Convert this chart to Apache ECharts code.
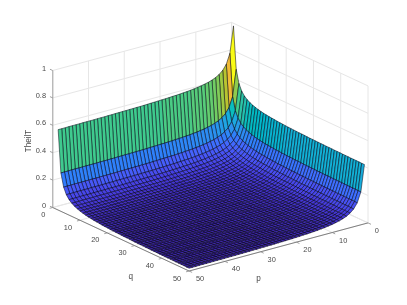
<!DOCTYPE html>
<html><head><meta charset="utf-8">
<style>html,body{margin:0;padding:0;background:#fff}#c{width:407px;height:305px}</style>
<script src="https://cdn.jsdelivr.net/npm/echarts@6/dist/echarts.min.js"></script>
</head><body><div id="c"></div>
<script>
const pValues=[1,2,3,4,5,6,7,8,9,10,11,12,13,14,15,16,17,18,19,20,21,22,23,24,25,26,27,28,29,30,31,32,33,34,35,36,37,38,39,40,41,42,43,44,45,46,47,48,49,50];
const qValues=[2,3,4,5,6,7,8,9,10,11,12,13,14,15,16,17,18,19,20,21,22,23,24,25,26,27,28,29,30,31,32,33,34,35,36,37,38,39,40,41,42,43,44,45,46,47,48,49,50];
// TheilT read from the surface, in thousandths, one row per q across all p.
const zUnit=0.001;
const q2=[1000,807,735,697,674,658,647,638,632,626,622,618,615,612,610,608,606,605,603,602,601,600,599,598,597,596,595,595,594,594,593,593,592,592,591,591,590,590,590,589,589,589,589,588,588,588,588,587,587,587];
const q3=[693,500,428,390,367,351,340,331,325,319,315,311,308,305,303,301,299,298,296,295,294,293,292,291,290,289,288,288,287,287,286,286,285,285,284,284,283,283,283,282,282,282,282,281,281,281,281,280,280,280];
const q4=[599,406,334,296,273,257,246,237,231,225,221,217,214,211,209,207,205,204,202,201,200,199,198,197,196,195,194,194,193,193,192,192,191,191,190,190,189,189,189,188,188,188,188,187,187,187,187,186,186,186];
const q5=[553,360,288,250,227,211,200,191,185,179,175,171,168,165,163,161,159,158,156,155,154,153,152,151,150,149,148,148,147,147,146,146,145,145,144,144,143,143,143,142,142,142,142,141,141,141,141,140,140,140];
const q6=[526,333,261,223,200,184,173,164,158,152,148,144,141,138,136,134,132,131,129,128,127,126,125,124,123,122,121,121,120,120,119,119,118,118,117,117,116,116,116,115,115,115,115,114,114,114,114,113,113,113];
const q7=[509,316,244,206,183,167,156,147,141,135,131,127,124,121,119,117,115,114,112,111,110,109,108,107,106,105,104,104,103,103,102,102,101,101,100,100,99,99,99,98,98,98,98,97,97,97,97,96,96,96];
const q8=[496,303,231,193,170,154,143,134,128,122,118,114,111,108,106,104,102,101,99,98,97,96,95,94,93,92,91,91,90,90,89,89,88,88,87,87,86,86,86,85,85,85,85,84,84,84,84,83,83,83];
const q9=[487,294,222,184,161,145,134,125,119,113,109,105,102,99,97,95,93,92,90,89,88,87,86,85,84,83,82,82,81,81,80,80,79,79,78,78,77,77,77,76,76,76,76,75,75,75,75,74,74,74];
const q10=[480,287,215,177,154,138,127,118,112,106,102,98,95,92,90,88,86,85,83,82,81,80,79,78,77,76,75,75,74,74,73,73,72,72,71,71,70,70,70,69,69,69,69,68,68,68,68,67,67,67];
const q11=[474,281,209,171,148,132,121,112,106,100,96,92,89,86,84,82,80,79,77,76,75,74,73,72,71,70,69,69,68,68,67,67,66,66,65,65,64,64,64,63,63,63,63,62,62,62,62,61,61,61];
const q12=[469,276,204,166,143,127,116,107,101,95,91,87,84,81,79,77,75,74,72,71,70,69,68,67,66,65,64,64,63,63,62,62,61,61,60,60,59,59,59,58,58,58,58,57,57,57,57,56,56,56];
const q13=[465,272,200,162,139,123,112,103,97,91,87,83,80,77,75,73,71,70,68,67,66,65,64,63,62,61,60,60,59,59,58,58,57,57,56,56,55,55,55,54,54,54,54,53,53,53,53,52,52,52];
const q14=[462,269,197,159,136,120,109,100,94,88,84,80,77,74,72,70,68,67,65,64,63,62,61,60,59,58,57,57,56,56,55,55,54,54,53,53,52,52,52,51,51,51,51,50,50,50,50,49,49,49];
const q15=[459,266,194,156,133,117,106,97,91,85,81,77,74,71,69,67,65,64,62,61,60,59,58,57,56,55,54,54,53,53,52,52,51,51,50,50,49,49,49,48,48,48,48,47,47,47,47,46,46,46];
const q16=[457,264,192,154,131,115,104,95,89,83,79,75,72,69,67,65,63,62,60,59,58,57,56,55,54,53,52,52,51,51,50,50,49,49,48,48,47,47,47,46,46,46,46,45,45,45,45,44,44,44];
const q17=[455,262,190,152,129,113,102,93,87,81,77,73,70,67,65,63,61,60,58,57,56,55,54,53,52,51,50,50,49,49,48,48,47,47,46,46,45,45,45,44,44,44,44,43,43,43,43,42,42,42];
const q18=[453,260,188,150,127,111,100,91,85,79,75,71,68,65,63,61,59,58,56,55,54,53,52,51,50,49,48,48,47,47,46,46,45,45,44,44,43,43,43,42,42,42,42,41,41,41,41,40,40,40];
const q19=[451,258,186,148,125,109,98,89,83,77,73,69,66,63,61,59,57,56,54,53,52,51,50,49,48,47,46,46,45,45,44,44,43,43,42,42,41,41,41,40,40,40,40,39,39,39,39,38,38,38];
const q20=[450,257,185,147,124,108,97,88,82,76,72,68,65,62,60,58,56,55,53,52,51,50,49,48,47,46,45,45,44,44,43,43,42,42,41,41,40,40,40,39,39,39,39,38,38,38,38,37,37,37];
const q21=[448,255,183,145,122,106,95,86,80,74,70,66,63,60,58,56,54,53,51,50,49,48,47,46,45,44,43,43,42,42,41,41,40,40,39,39,38,38,38,37,37,37,37,36,36,36,36,35,35,35];
const q22=[447,254,182,144,121,105,94,85,79,73,69,65,62,59,57,55,53,52,50,49,48,47,46,45,44,43,42,42,41,41,40,40,39,39,38,38,37,37,37,36,36,36,36,35,35,35,35,34,34,34];
const q23=[446,253,181,143,120,104,93,84,78,72,68,64,61,58,56,54,52,51,49,48,47,46,45,44,43,42,41,41,40,40,39,39,38,38,37,37,36,36,36,35,35,35,35,34,34,34,34,33,33,33];
const q24=[445,252,180,142,119,103,92,83,77,71,67,63,60,57,55,53,51,50,48,47,46,45,44,43,42,41,40,40,39,39,38,38,37,37,36,36,35,35,35,34,34,34,34,33,33,33,33,32,32,32];
const q25=[444,251,179,141,118,102,91,82,76,70,66,62,59,56,54,52,50,49,47,46,45,44,43,42,41,40,39,39,38,38,37,37,36,36,35,35,34,34,34,33,33,33,33,32,32,32,32,31,31,31];
const q26=[443,250,178,140,117,101,90,81,75,69,65,61,58,55,53,51,49,48,46,45,44,43,42,41,40,39,38,38,37,37,36,36,35,35,34,34,33,33,33,32,32,32,32,31,31,31,31,30,30,30];
const q27=q26;
const q28=[442,249,177,139,116,100,89,80,74,68,64,60,57,54,52,50,48,47,45,44,43,42,41,40,39,38,37,37,36,36,35,35,34,34,33,33,32,32,32,31,31,31,31,30,30,30,30,29,29,29];
const q29=[441,248,176,138,115,99,88,79,73,67,63,59,56,53,51,49,47,46,44,43,42,41,40,39,38,37,36,36,35,35,34,34,33,33,32,32,31,31,31,30,30,30,30,29,29,29,29,28,28,28];
const q30=[440,247,175,137,114,98,87,78,72,66,62,58,55,52,50,48,46,45,43,42,41,40,39,38,37,36,35,35,34,34,33,33,32,32,31,31,30,30,30,29,29,29,29,28,28,28,28,27,27,27];
const q31=q30;
const q32=[439,246,174,136,113,97,86,77,71,65,61,57,54,51,49,47,45,44,42,41,40,39,38,37,36,35,34,34,33,33,32,32,31,31,30,30,29,29,29,28,28,28,28,27,27,27,27,26,26,26];
const q33=q32;
const q34=[438,245,173,135,112,96,85,76,70,64,60,56,53,50,48,46,44,43,41,40,39,38,37,36,35,34,33,33,32,32,31,31,30,30,29,29,28,28,28,27,27,27,27,26,26,26,26,25,25,25];
const q35=q34;
const q36=[437,244,172,134,111,95,84,75,69,63,59,55,52,49,47,45,43,42,40,39,38,37,36,35,34,33,32,32,31,31,30,30,29,29,28,28,27,27,27,26,26,26,26,25,25,25,25,24,24,24];
const q37=q36, q38=q36;
const q39=[436,243,171,133,110,94,83,74,68,62,58,54,51,48,46,44,42,41,39,38,37,36,35,34,33,32,31,31,30,30,29,29,28,28,27,27,26,26,26,25,25,25,25,24,24,24,24,23,23,23];
const q40=q39, q41=q39;
const q42=[435,242,170,132,109,93,82,73,67,61,57,53,50,47,45,43,41,40,38,37,36,35,34,33,32,31,30,30,29,29,28,28,27,27,26,26,25,25,25,24,24,24,24,23,23,23,23,22,22,22];
const q43=q42, q44=q42;
const q45=[434,241,169,131,108,92,81,72,66,60,56,52,49,46,44,42,40,39,37,36,35,34,33,32,31,30,29,29,28,28,27,27,26,26,25,25,24,24,24,23,23,23,23,22,22,22,22,21,21,21];
const q46=q45, q47=q45, q48=q45;
const q49=[433,240,168,130,107,91,80,71,65,59,55,51,48,45,43,41,39,38,36,35,34,33,32,31,30,29,28,28,27,27,26,26,25,25,24,24,23,23,23,22,22,22,22,21,21,21,21,20,20,20];
const q50=q49;
const theilT=[q2,q3,q4,q5,q6,q7,q8,q9,q10,q11,q12,q13,q14,q15,q16,q17,q18,q19,q20,q21,q22,q23,q24,q25,q26,q27,q28,q29,q30,q31,q32,q33,q34,q35,q36,q37,q38,q39,q40,q41,q42,q43,q44,q45,q46,q47,q48,q49,q50].map(r=>r.map(v=>v*zUnit));
const pTicks=[0,10,20,30,40,50];
const qTicks=[0,10,20,30,40,50];
const zTicks=[0,0.2,0.4,0.6,0.8,1];
const zLabels=['0','0.2','0.4','0.6','0.8','1'];
const axisNames={p:'p',q:'q',z:'TheilT'};
const parula=[[0.2422,0.1504,0.6603],[0.2504,0.1650,0.7076],[0.2578,0.1818,0.7511],[0.2647,0.1978,0.7952],[0.2706,0.2147,0.8364],[0.2751,0.2342,0.8710],[0.2783,0.2559,0.8991],[0.2803,0.2782,0.9221],[0.2813,0.3006,0.9414],[0.2810,0.3228,0.9579],[0.2795,0.3447,0.9717],[0.2760,0.3667,0.9829],[0.2699,0.3892,0.9906],[0.2602,0.4123,0.9952],[0.2440,0.4358,0.9988],[0.2206,0.4603,0.9973],[0.1963,0.4847,0.9892],[0.1834,0.5074,0.9798],[0.1786,0.5289,0.9682],[0.1764,0.5499,0.9520],[0.1687,0.5703,0.9359],[0.1540,0.5902,0.9218],[0.1460,0.6091,0.9079],[0.1380,0.6276,0.8973],[0.1248,0.6459,0.8883],[0.1113,0.6635,0.8763],[0.0952,0.6798,0.8598],[0.0689,0.6948,0.8394],[0.0297,0.7082,0.8163],[0.0036,0.7203,0.7917],[0.0067,0.7312,0.7660],[0.0433,0.7411,0.7394],[0.0964,0.7500,0.7120],[0.1408,0.7584,0.6842],[0.1717,0.7670,0.6554],[0.1938,0.7758,0.6251],[0.2161,0.7843,0.5923],[0.2470,0.7918,0.5567],[0.2906,0.7973,0.5188],[0.3406,0.8008,0.4789],[0.3909,0.8029,0.4354],[0.4456,0.8024,0.3909],[0.5044,0.7993,0.3480],[0.5616,0.7942,0.3045],[0.6174,0.7876,0.2612],[0.6720,0.7793,0.2227],[0.7242,0.7698,0.1910],[0.7738,0.7598,0.1646],[0.8203,0.7498,0.1535],[0.8634,0.7406,0.1596],[0.9035,0.7330,0.1774],[0.9393,0.7288,0.2100],[0.9728,0.7298,0.2394],[0.9956,0.7434,0.2371],[0.9970,0.7659,0.2199],[0.9952,0.7893,0.2028],[0.9892,0.8136,0.1885],[0.9786,0.8386,0.1766],[0.9676,0.8639,0.1643],[0.9610,0.8890,0.1537],[0.9597,0.9135,0.1423],[0.9628,0.9373,0.1265],[0.9691,0.9606,0.1064],[0.9769,0.9839,0.0805]];

// Orthographic view of the MATLAB axes box, expressed in the hidden 407x305 plane.
const view={o:[231.6,159.4],p:[-3.578,0.962],q:[2.728,1.27],z:[0,-137]};
const project=(p,q,z)=>[view.o[0]+p*view.p[0]+q*view.q[0],view.o[1]+p*view.p[1]+q*view.q[1]+z*view.z[1]];
const pMax=50,qMax=50;
const all=theilT.flat();
const zLo=Math.min(...all),zHi=Math.max(...all);
function color(v){
  const i=Math.min(parula.length-1,Math.floor((v-zLo)/(zHi-zLo)*parula.length));
  const c=parula[i];
  return 'rgb('+c.map(x=>Math.round(x*255)).join(',')+')';
}
const segItem=(a,b)=>[a[0],a[1],a[2],b[0],b[1],b[2]];
const wallSegs=[];
zTicks.forEach(z=>{wallSegs.push(segItem([pMax,0,z],[0,0,z]));wallSegs.push(segItem([0,0,z],[0,qMax,z]));});
pTicks.forEach(p=>{wallSegs.push(segItem([p,0,0],[p,0,1]));wallSegs.push(segItem([p,0,0],[p,qMax,0]));});
qTicks.forEach(q=>{wallSegs.push(segItem([0,q,0],[0,q,1]));wallSegs.push(segItem([0,q,0],[pMax,q,0]));});
const axisSegs=[
  segItem([pMax,0,0],[pMax,qMax,0]),
  segItem([pMax,qMax,0],[0,qMax,0])
];
const tickSegs=[];
qTicks.forEach(q=>tickSegs.push(segItem([pMax,q,0],[pMax+0.85,q,0])));
pTicks.forEach(p=>tickSegs.push(segItem([p,qMax,0],[p,qMax+1.1,0])));
zTicks.forEach(z=>tickSegs.push(segItem([pMax,0,z],[pMax,-1.0,z])));

const cells=[];
for(let i=0;i<qValues.length-1;i++)for(let j=0;j<pValues.length-1;j++)cells.push([i,j]);
cells.sort((a,b)=>(a[0]+a[1])-(b[0]+b[1]));

function lineRenderer(color,width){
  return function(params,api){
    const a=api.coord(project(api.value(0),api.value(1),api.value(2)));
    const b=api.coord(project(api.value(3),api.value(4),api.value(5)));
    return {type:'line',shape:{x1:a[0],y1:a[1],x2:b[0],y2:b[1]},style:{stroke:color,lineWidth:width,fill:null},silent:true};
  };
}
const font='"Liberation Sans",Arial,sans-serif';
const texts=[];
qTicks.forEach(q=>texts.push({t:String(q),a:[pMax,q,0],d:[q===0?-9.4:-12,7.5],s:7.4}));
pTicks.forEach(p=>texts.push({t:String(p),a:[p,qMax,0],d:[p===0?8.7:11,8],s:7.4}));
zTicks.forEach((z,i)=>texts.push({t:zLabels[i],a:[pMax,0,z],d:[-6.7,-2],s:7.4,r:true}));
texts.push({t:axisNames.q,a:[pMax,25,0],d:[10,37],s:8.2});
texts.push({t:axisNames.p,a:[25,qMax,0],d:[-20,32],s:8.2});
texts.push({t:axisNames.z,a:[pMax,0,0.5],d:[-23.5,2],s:8.2,rot:Math.PI/2});

const chart=echarts.init(document.getElementById('c'),null,{renderer:'canvas'});
chart.setOption({
  animation:false,backgroundColor:'#fff',
  grid:{left:0,right:0,top:0,bottom:0},
  xAxis:{type:'value',min:0,max:407,show:false},
  yAxis:{type:'value',min:0,max:305,inverse:true,show:false},
  series:[
    {type:'custom',name:'wall grid',coordinateSystem:'cartesian2d',clip:false,silent:true,z:1,data:wallSegs,renderItem:lineRenderer('#e6e6e6',1)},
    {type:'custom',name:'TheilT surface',coordinateSystem:'cartesian2d',clip:false,silent:true,z:2,progressive:0,data:cells,
      renderItem(params,api){
        const i=api.value(0),j=api.value(1);
        const P=pValues,Q=qValues,Z=theilT;
        const pts=[[i,j],[i,j+1],[i+1,j+1],[i+1,j]].map(c=>api.coord(project(P[c[1]],Q[c[0]],Z[c[0]][c[1]])));
        return {type:'polygon',shape:{points:pts},style:{fill:color(Z[i][j]),stroke:'rgba(0,0,16,0.78)',lineWidth:0.65},silent:true};
      }},
    {type:'custom',name:'z axis',coordinateSystem:'cartesian2d',clip:false,silent:true,z:3,data:[segItem([pMax,0,0],[pMax,0,1])],renderItem:lineRenderer('#b9b9b9',1.4)},
    {type:'custom',name:'axes',coordinateSystem:'cartesian2d',clip:false,silent:true,z:3,data:axisSegs,renderItem:lineRenderer('#808080',1)},
    {type:'custom',name:'ticks',coordinateSystem:'cartesian2d',clip:false,silent:true,z:3,data:tickSegs,renderItem:lineRenderer('#8a8a8a',0.8)},
    {type:'custom',name:'labels',coordinateSystem:'cartesian2d',clip:false,silent:true,z:4,data:texts.map((t,i)=>[i,0]),
      renderItem(params,api){
        const t=texts[api.value(0)];
        const c=api.coord(project(t.a[0],t.a[1],t.a[2]));
        return {type:'text',x:c[0]+t.d[0],y:c[1]+t.d[1],rotation:t.rot||0,silent:true,
          style:{text:t.t,fontSize:t.s,fontFamily:font,fill:'#4a4a4a',align:t.r?'right':'center',verticalAlign:'middle'}};
      }}
  ]
});
</script></body></html>
